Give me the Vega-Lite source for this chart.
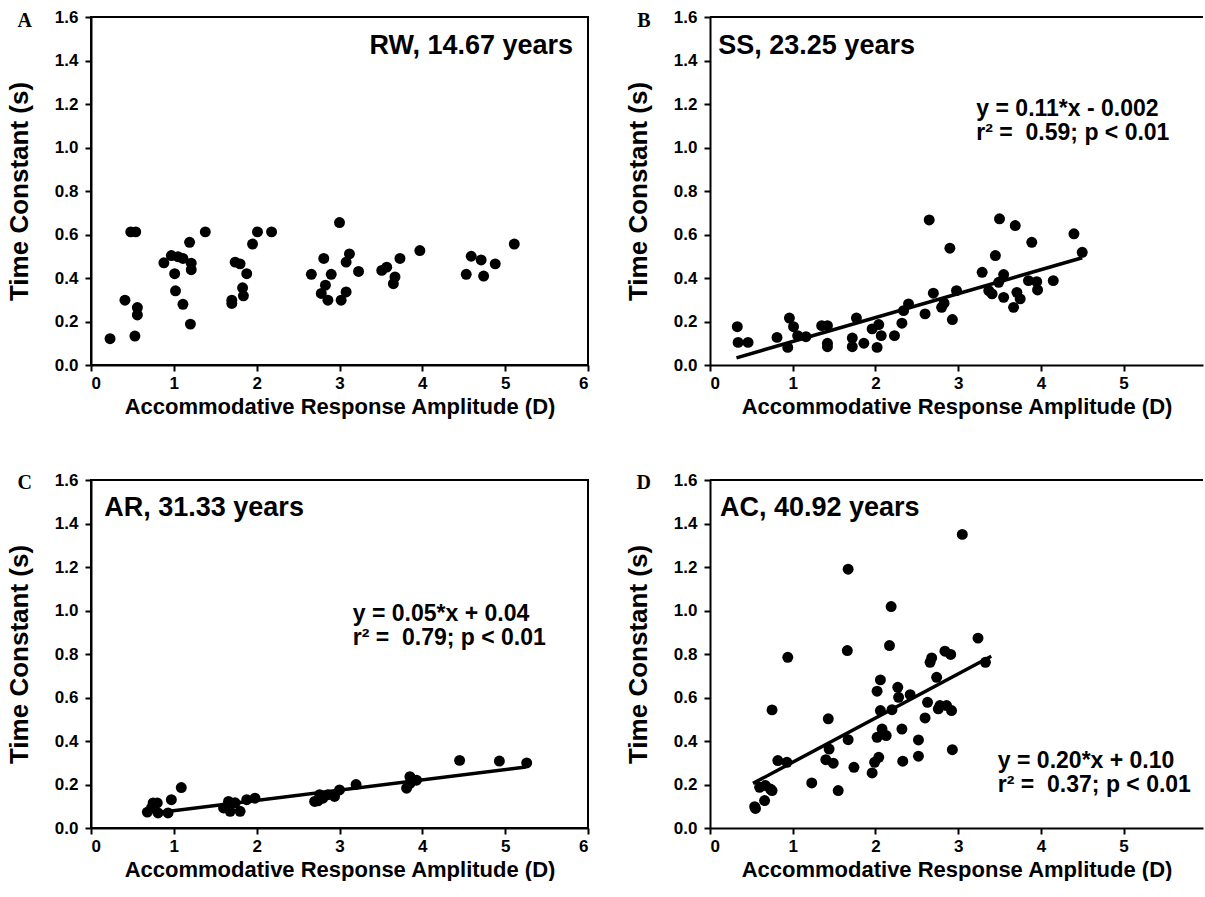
{
  "$schema": "https://vega.github.io/schema/vega-lite/v6.json",
  "padding": {"left": 5, "top": 7, "right": 0, "bottom": 0},
  "background": "white",
  "columns": 2,
  "spacing": {"row": 115, "column": 122},
  "bounds": "flush",
  "datasets": {
    "A": [
      {"amp": 0.23, "tau": 0.121}, {"amp": 0.53, "tau": 0.133}, {"amp": 0.41, "tau": 0.298}, {"amp": 0.56, "tau": 0.264},
      {"amp": 0.56, "tau": 0.23}, {"amp": 0.48, "tau": 0.612}, {"amp": 0.54, "tau": 0.612}, {"amp": 0.88, "tau": 0.47},
      {"amp": 0.97, "tau": 0.503}, {"amp": 1.05, "tau": 0.498}, {"amp": 1.11, "tau": 0.49}, {"amp": 1.19, "tau": 0.564},
      {"amp": 1.21, "tau": 0.468}, {"amp": 1.21, "tau": 0.438}, {"amp": 1.01, "tau": 0.42}, {"amp": 1.02, "tau": 0.341},
      {"amp": 1.11, "tau": 0.279}, {"amp": 1.2, "tau": 0.188}, {"amp": 1.38, "tau": 0.612}, {"amp": 1.74, "tau": 0.473},
      {"amp": 1.8, "tau": 0.465}, {"amp": 1.88, "tau": 0.42}, {"amp": 1.83, "tau": 0.355}, {"amp": 1.84, "tau": 0.318},
      {"amp": 1.7, "tau": 0.298}, {"amp": 1.7, "tau": 0.283}, {"amp": 1.95, "tau": 0.556}, {"amp": 2.01, "tau": 0.612},
      {"amp": 2.18, "tau": 0.612}, {"amp": 3.0, "tau": 0.655}, {"amp": 2.81, "tau": 0.49}, {"amp": 2.66, "tau": 0.417},
      {"amp": 2.9, "tau": 0.417}, {"amp": 2.83, "tau": 0.367}, {"amp": 2.78, "tau": 0.329}, {"amp": 2.86, "tau": 0.298},
      {"amp": 3.02, "tau": 0.298}, {"amp": 3.08, "tau": 0.336}, {"amp": 3.08, "tau": 0.473}, {"amp": 3.12, "tau": 0.511},
      {"amp": 3.23, "tau": 0.43}, {"amp": 3.51, "tau": 0.435}, {"amp": 3.57, "tau": 0.45}, {"amp": 3.67, "tau": 0.405},
      {"amp": 3.65, "tau": 0.374}, {"amp": 3.73, "tau": 0.49}, {"amp": 3.97, "tau": 0.526}, {"amp": 4.53, "tau": 0.417},
      {"amp": 4.59, "tau": 0.5}, {"amp": 4.71, "tau": 0.483}, {"amp": 4.74, "tau": 0.409}, {"amp": 4.88, "tau": 0.465},
      {"amp": 5.11, "tau": 0.556}
    ],
    "B": [
      {"amp": 0.33, "tau": 0.176}, {"amp": 0.34, "tau": 0.104}, {"amp": 0.46, "tau": 0.104}, {"amp": 0.81, "tau": 0.127},
      {"amp": 0.94, "tau": 0.081}, {"amp": 0.96, "tau": 0.216}, {"amp": 1.01, "tau": 0.176}, {"amp": 1.06, "tau": 0.135},
      {"amp": 1.16, "tau": 0.13}, {"amp": 1.35, "tau": 0.181}, {"amp": 1.42, "tau": 0.181}, {"amp": 1.42, "tau": 0.1},
      {"amp": 1.42, "tau": 0.084}, {"amp": 1.72, "tau": 0.124}, {"amp": 1.72, "tau": 0.084}, {"amp": 1.77, "tau": 0.216},
      {"amp": 1.86, "tau": 0.1}, {"amp": 1.96, "tau": 0.166}, {"amp": 2.04, "tau": 0.186}, {"amp": 2.02, "tau": 0.081},
      {"amp": 2.07, "tau": 0.135}, {"amp": 2.23, "tau": 0.135}, {"amp": 2.32, "tau": 0.192}, {"amp": 2.34, "tau": 0.25},
      {"amp": 2.4, "tau": 0.281}, {"amp": 2.6, "tau": 0.235}, {"amp": 2.65, "tau": 0.667}, {"amp": 2.7, "tau": 0.33},
      {"amp": 2.8, "tau": 0.265}, {"amp": 2.83, "tau": 0.284}, {"amp": 2.9, "tau": 0.537}, {"amp": 2.93, "tau": 0.209},
      {"amp": 2.98, "tau": 0.342}, {"amp": 3.29, "tau": 0.426}, {"amp": 3.37, "tau": 0.342}, {"amp": 3.41, "tau": 0.327},
      {"amp": 3.45, "tau": 0.503}, {"amp": 3.5, "tau": 0.672}, {"amp": 3.49, "tau": 0.38}, {"amp": 3.55, "tau": 0.416},
      {"amp": 3.55, "tau": 0.311}, {"amp": 3.69, "tau": 0.641}, {"amp": 3.67, "tau": 0.265}, {"amp": 3.71, "tau": 0.334},
      {"amp": 3.75, "tau": 0.304}, {"amp": 3.85, "tau": 0.388}, {"amp": 3.89, "tau": 0.564}, {"amp": 3.95, "tau": 0.383},
      {"amp": 3.96, "tau": 0.345}, {"amp": 4.15, "tau": 0.388}, {"amp": 4.4, "tau": 0.603}, {"amp": 4.5, "tau": 0.518}
    ],
    "C": [
      {"amp": 0.68, "tau": 0.073}, {"amp": 0.75, "tau": 0.115}, {"amp": 0.8, "tau": 0.115}, {"amp": 0.81, "tau": 0.069},
      {"amp": 0.93, "tau": 0.069}, {"amp": 0.97, "tau": 0.13}, {"amp": 1.09, "tau": 0.186}, {"amp": 0.73, "tau": 0.092},
      {"amp": 1.6, "tau": 0.092}, {"amp": 1.66, "tau": 0.122}, {"amp": 1.68, "tau": 0.077}, {"amp": 1.74, "tau": 0.116},
      {"amp": 1.8, "tau": 0.077}, {"amp": 1.88, "tau": 0.13}, {"amp": 1.98, "tau": 0.137}, {"amp": 2.7, "tau": 0.122},
      {"amp": 2.74, "tau": 0.125}, {"amp": 2.76, "tau": 0.153}, {"amp": 2.8, "tau": 0.137}, {"amp": 2.86, "tau": 0.153},
      {"amp": 2.94, "tau": 0.145}, {"amp": 3.0, "tau": 0.175}, {"amp": 3.2, "tau": 0.2}, {"amp": 3.81, "tau": 0.183},
      {"amp": 3.85, "tau": 0.236}, {"amp": 3.85, "tau": 0.205}, {"amp": 3.93, "tau": 0.22}, {"amp": 4.45, "tau": 0.311},
      {"amp": 4.93, "tau": 0.308}, {"amp": 5.26, "tau": 0.299}
    ],
    "D": [
      {"amp": 0.54, "tau": 0.098}, {"amp": 0.55, "tau": 0.09}, {"amp": 0.66, "tau": 0.126}, {"amp": 0.6, "tau": 0.187},
      {"amp": 0.67, "tau": 0.195}, {"amp": 0.73, "tau": 0.179}, {"amp": 0.75, "tau": 0.172}, {"amp": 0.75, "tau": 0.543},
      {"amp": 0.82, "tau": 0.31}, {"amp": 0.93, "tau": 0.302}, {"amp": 0.94, "tau": 0.785}, {"amp": 1.23, "tau": 0.207},
      {"amp": 1.4, "tau": 0.314}, {"amp": 1.44, "tau": 0.363}, {"amp": 1.43, "tau": 0.502}, {"amp": 1.49, "tau": 0.298},
      {"amp": 1.55, "tau": 0.172}, {"amp": 1.66, "tau": 0.816}, {"amp": 1.67, "tau": 1.19}, {"amp": 1.67, "tau": 0.406},
      {"amp": 1.74, "tau": 0.279}, {"amp": 1.96, "tau": 0.253}, {"amp": 1.99, "tau": 0.302}, {"amp": 2.02, "tau": 0.417},
      {"amp": 2.04, "tau": 0.325}, {"amp": 2.02, "tau": 0.629}, {"amp": 2.06, "tau": 0.54}, {"amp": 2.06, "tau": 0.681},
      {"amp": 2.08, "tau": 0.455}, {"amp": 2.13, "tau": 0.425}, {"amp": 2.17, "tau": 0.839}, {"amp": 2.19, "tau": 1.018},
      {"amp": 2.2, "tau": 0.544}, {"amp": 2.27, "tau": 0.647}, {"amp": 2.28, "tau": 0.601}, {"amp": 2.32, "tau": 0.455},
      {"amp": 2.33, "tau": 0.307}, {"amp": 2.42, "tau": 0.613}, {"amp": 2.52, "tau": 0.405}, {"amp": 2.52, "tau": 0.33},
      {"amp": 2.6, "tau": 0.506}, {"amp": 2.63, "tau": 0.578}, {"amp": 2.66, "tau": 0.762}, {"amp": 2.68, "tau": 0.782},
      {"amp": 2.74, "tau": 0.693}, {"amp": 2.76, "tau": 0.548}, {"amp": 2.78, "tau": 0.563}, {"amp": 2.84, "tau": 0.813},
      {"amp": 2.86, "tau": 0.563}, {"amp": 2.91, "tau": 0.798}, {"amp": 2.92, "tau": 0.54}, {"amp": 2.93, "tau": 0.36},
      {"amp": 3.24, "tau": 0.873}, {"amp": 3.33, "tau": 0.762}, {"amp": 3.05, "tau": 1.35}
    ],
    "fitB": [{"amp": 0.32, "tau": 0.033}, {"amp": 4.5, "tau": 0.493}],
    "fitC": [{"amp": 0.75, "tau": 0.068}, {"amp": 5.25, "tau": 0.28}],
    "fitD": [{"amp": 0.52, "tau": 0.205}, {"amp": 3.4, "tau": 0.79}]
  },
  "concat": [
    {
      "width": 497, "height": 348,
      "layer": [
        {"data": {"name": "A"}, "mark": {"type": "circle", "size": 120, "color": "black", "opacity": 1},
         "encoding": {
           "x": {"field": "amp", "type": "quantitative", "scale": {"domain": [0, 6], "nice": false}, "axis": {"values": [0, 1, 2, 3, 4, 5, 6], "format": "d", "title": "Accommodative Response Amplitude (D)"}},
           "y": {"field": "tau", "type": "quantitative", "scale": {"domain": [0, 1.6], "nice": false}, "axis": {"values": [0, 0.2, 0.4, 0.6, 0.8, 1.0, 1.2, 1.4, 1.6], "format": ".1f", "title": "Time Constant (s)"}}
         }},
        {"data": {"values": [{}]}, "mark": {"type": "text", "align": "right", "baseline": "middle", "fontSize": 27, "fontWeight": "bold", "color": "black"},
         "encoding": {"x": {"datum": 5.82, "type": "quantitative"}, "y": {"datum": 1.467, "type": "quantitative"}, "text": {"value": "RW, 14.67 years"}}},
        {"data": {"values": [{}]}, "mark": {"type": "text", "align": "center", "baseline": "middle", "fontSize": 20, "fontWeight": "bold", "font": "Liberation Serif", "color": "black"},
         "encoding": {"x": {"datum": -0.8, "type": "quantitative"}, "y": {"datum": 1.582, "type": "quantitative"}, "text": {"value": "A"}}}
      ]
    },
    {
      "width": 493, "height": 348,
      "view": {"stroke": null},
      "layer": [
        {"data": {"name": "B"}, "mark": {"type": "circle", "size": 120, "color": "black", "opacity": 1},
         "encoding": {
           "x": {"field": "amp", "type": "quantitative", "scale": {"domain": [0, 5.96], "nice": false}, "axis": {"values": [0, 1, 2, 3, 4, 5], "format": "d", "title": "Accommodative Response Amplitude (D)"}},
           "y": {"field": "tau", "type": "quantitative", "scale": {"domain": [0, 1.6], "nice": false}, "axis": {"values": [0, 0.2, 0.4, 0.6, 0.8, 1.0, 1.2, 1.4, 1.6], "format": ".1f", "title": "Time Constant (s)"}}
         }},
        {"data": {"name": "fitB"}, "mark": {"type": "line", "strokeWidth": 3.5, "color": "black"},
         "encoding": {"x": {"field": "amp", "type": "quantitative"}, "y": {"field": "tau", "type": "quantitative"}}},
        {"data": {"values": [{}]}, "mark": {"type": "rule", "strokeWidth": 2, "color": "black"},
         "encoding": {"y": {"datum": 1.6, "type": "quantitative"}}},
        {"data": {"values": [{}]}, "mark": {"type": "text", "align": "left", "baseline": "middle", "fontSize": 27, "fontWeight": "bold", "color": "black"},
         "encoding": {"x": {"datum": 0.1, "type": "quantitative"}, "y": {"datum": 1.467, "type": "quantitative"}, "text": {"value": "SS, 23.25 years"}}},
        {"data": {"values": [{}]}, "mark": {"type": "text", "align": "left", "baseline": "middle", "fontSize": 23, "fontWeight": "bold", "color": "black"},
         "encoding": {"x": {"datum": 3.22, "type": "quantitative"}, "y": {"datum": 1.177, "type": "quantitative"}, "text": {"value": "y = 0.11*x - 0.002"}}},
        {"data": {"values": [{}]}, "mark": {"type": "text", "align": "left", "baseline": "middle", "fontSize": 23, "fontWeight": "bold", "color": "black"},
         "encoding": {"x": {"datum": 3.22, "type": "quantitative"}, "y": {"datum": 1.067, "type": "quantitative"}, "text": {"value": "r² = \u00a00.59; p < 0.01"}}},
        {"data": {"values": [{}]}, "mark": {"type": "text", "align": "center", "baseline": "middle", "fontSize": 20, "fontWeight": "bold", "font": "Liberation Serif", "color": "black"},
         "encoding": {"x": {"datum": -0.8, "type": "quantitative"}, "y": {"datum": 1.582, "type": "quantitative"}, "text": {"value": "B"}}}
      ]
    },
    {
      "width": 497, "height": 348,
      "layer": [
        {"data": {"name": "C"}, "mark": {"type": "circle", "size": 120, "color": "black", "opacity": 1},
         "encoding": {
           "x": {"field": "amp", "type": "quantitative", "scale": {"domain": [0, 6], "nice": false}, "axis": {"values": [0, 1, 2, 3, 4, 5, 6], "format": "d", "title": "Accommodative Response Amplitude (D)"}},
           "y": {"field": "tau", "type": "quantitative", "scale": {"domain": [0, 1.6], "nice": false}, "axis": {"values": [0, 0.2, 0.4, 0.6, 0.8, 1.0, 1.2, 1.4, 1.6], "format": ".1f", "title": "Time Constant (s)"}}
         }},
        {"data": {"name": "fitC"}, "mark": {"type": "line", "strokeWidth": 3.5, "color": "black"},
         "encoding": {"x": {"field": "amp", "type": "quantitative"}, "y": {"field": "tau", "type": "quantitative"}}},
        {"data": {"values": [{}]}, "mark": {"type": "text", "align": "left", "baseline": "middle", "fontSize": 27, "fontWeight": "bold", "color": "black"},
         "encoding": {"x": {"datum": 0.16, "type": "quantitative"}, "y": {"datum": 1.471, "type": "quantitative"}, "text": {"value": "AR, 31.33 years"}}},
        {"data": {"values": [{}]}, "mark": {"type": "text", "align": "left", "baseline": "middle", "fontSize": 23, "fontWeight": "bold", "color": "black"},
         "encoding": {"x": {"datum": 3.16, "type": "quantitative"}, "y": {"datum": 0.984, "type": "quantitative"}, "text": {"value": "y = 0.05*x + 0.04"}}},
        {"data": {"values": [{}]}, "mark": {"type": "text", "align": "left", "baseline": "middle", "fontSize": 23, "fontWeight": "bold", "color": "black"},
         "encoding": {"x": {"datum": 3.16, "type": "quantitative"}, "y": {"datum": 0.874, "type": "quantitative"}, "text": {"value": "r² = \u00a00.79; p < 0.01"}}},
        {"data": {"values": [{}]}, "mark": {"type": "text", "align": "center", "baseline": "middle", "fontSize": 20, "fontWeight": "bold", "font": "Liberation Serif", "color": "black"},
         "encoding": {"x": {"datum": -0.8, "type": "quantitative"}, "y": {"datum": 1.587, "type": "quantitative"}, "text": {"value": "C"}}}
      ]
    },
    {
      "width": 493, "height": 348,
      "view": {"stroke": null},
      "layer": [
        {"data": {"name": "D"}, "mark": {"type": "circle", "size": 120, "color": "black", "opacity": 1},
         "encoding": {
           "x": {"field": "amp", "type": "quantitative", "scale": {"domain": [0, 5.96], "nice": false}, "axis": {"values": [0, 1, 2, 3, 4, 5], "format": "d", "title": "Accommodative Response Amplitude (D)"}},
           "y": {"field": "tau", "type": "quantitative", "scale": {"domain": [0, 1.6], "nice": false}, "axis": {"values": [0, 0.2, 0.4, 0.6, 0.8, 1.0, 1.2, 1.4, 1.6], "format": ".1f", "title": "Time Constant (s)"}}
         }},
        {"data": {"name": "fitD"}, "mark": {"type": "line", "strokeWidth": 3.5, "color": "black"},
         "encoding": {"x": {"field": "amp", "type": "quantitative"}, "y": {"field": "tau", "type": "quantitative"}}},
        {"data": {"values": [{}]}, "mark": {"type": "rule", "strokeWidth": 2, "color": "black"},
         "encoding": {"y": {"datum": 1.6, "type": "quantitative"}}},
        {"data": {"values": [{}]}, "mark": {"type": "text", "align": "left", "baseline": "middle", "fontSize": 27, "fontWeight": "bold", "color": "black"},
         "encoding": {"x": {"datum": 0.12, "type": "quantitative"}, "y": {"datum": 1.471, "type": "quantitative"}, "text": {"value": "AC, 40.92 years"}}},
        {"data": {"values": [{}]}, "mark": {"type": "text", "align": "left", "baseline": "middle", "fontSize": 23, "fontWeight": "bold", "color": "black"},
         "encoding": {"x": {"datum": 3.48, "type": "quantitative"}, "y": {"datum": 0.308, "type": "quantitative"}, "text": {"value": "y = 0.20*x + 0.10"}}},
        {"data": {"values": [{}]}, "mark": {"type": "text", "align": "left", "baseline": "middle", "fontSize": 23, "fontWeight": "bold", "color": "black"},
         "encoding": {"x": {"datum": 3.48, "type": "quantitative"}, "y": {"datum": 0.198, "type": "quantitative"}, "text": {"value": "r² = \u00a00.37; p < 0.01"}}},
        {"data": {"values": [{}]}, "mark": {"type": "text", "align": "center", "baseline": "middle", "fontSize": 20, "fontWeight": "bold", "font": "Liberation Serif", "color": "black"},
         "encoding": {"x": {"datum": -0.8, "type": "quantitative"}, "y": {"datum": 1.587, "type": "quantitative"}, "text": {"value": "D"}}}
      ]
    }
  ],
  "config": {
    "font": "Liberation Sans",
    "view": {"stroke": "black", "strokeWidth": 2},
    "axis": {
      "grid": false,
      "domainColor": "black", "domainWidth": 2,
      "tickColor": "black", "tickWidth": 2, "tickSize": 6,
      "labelFont": "Liberation Sans", "labelFontSize": 17, "labelFontWeight": "bold", "labelColor": "black",
      "titleFont": "Liberation Sans", "titleFontWeight": "bold", "titleColor": "black"
    },
    "axisX": {"titlePadding": 5, "titleFontSize": 22, "labelPadding": 4},
    "axisY": {"titlePadding": 22, "titleFontSize": 26, "labelPadding": 7}
  }
}
